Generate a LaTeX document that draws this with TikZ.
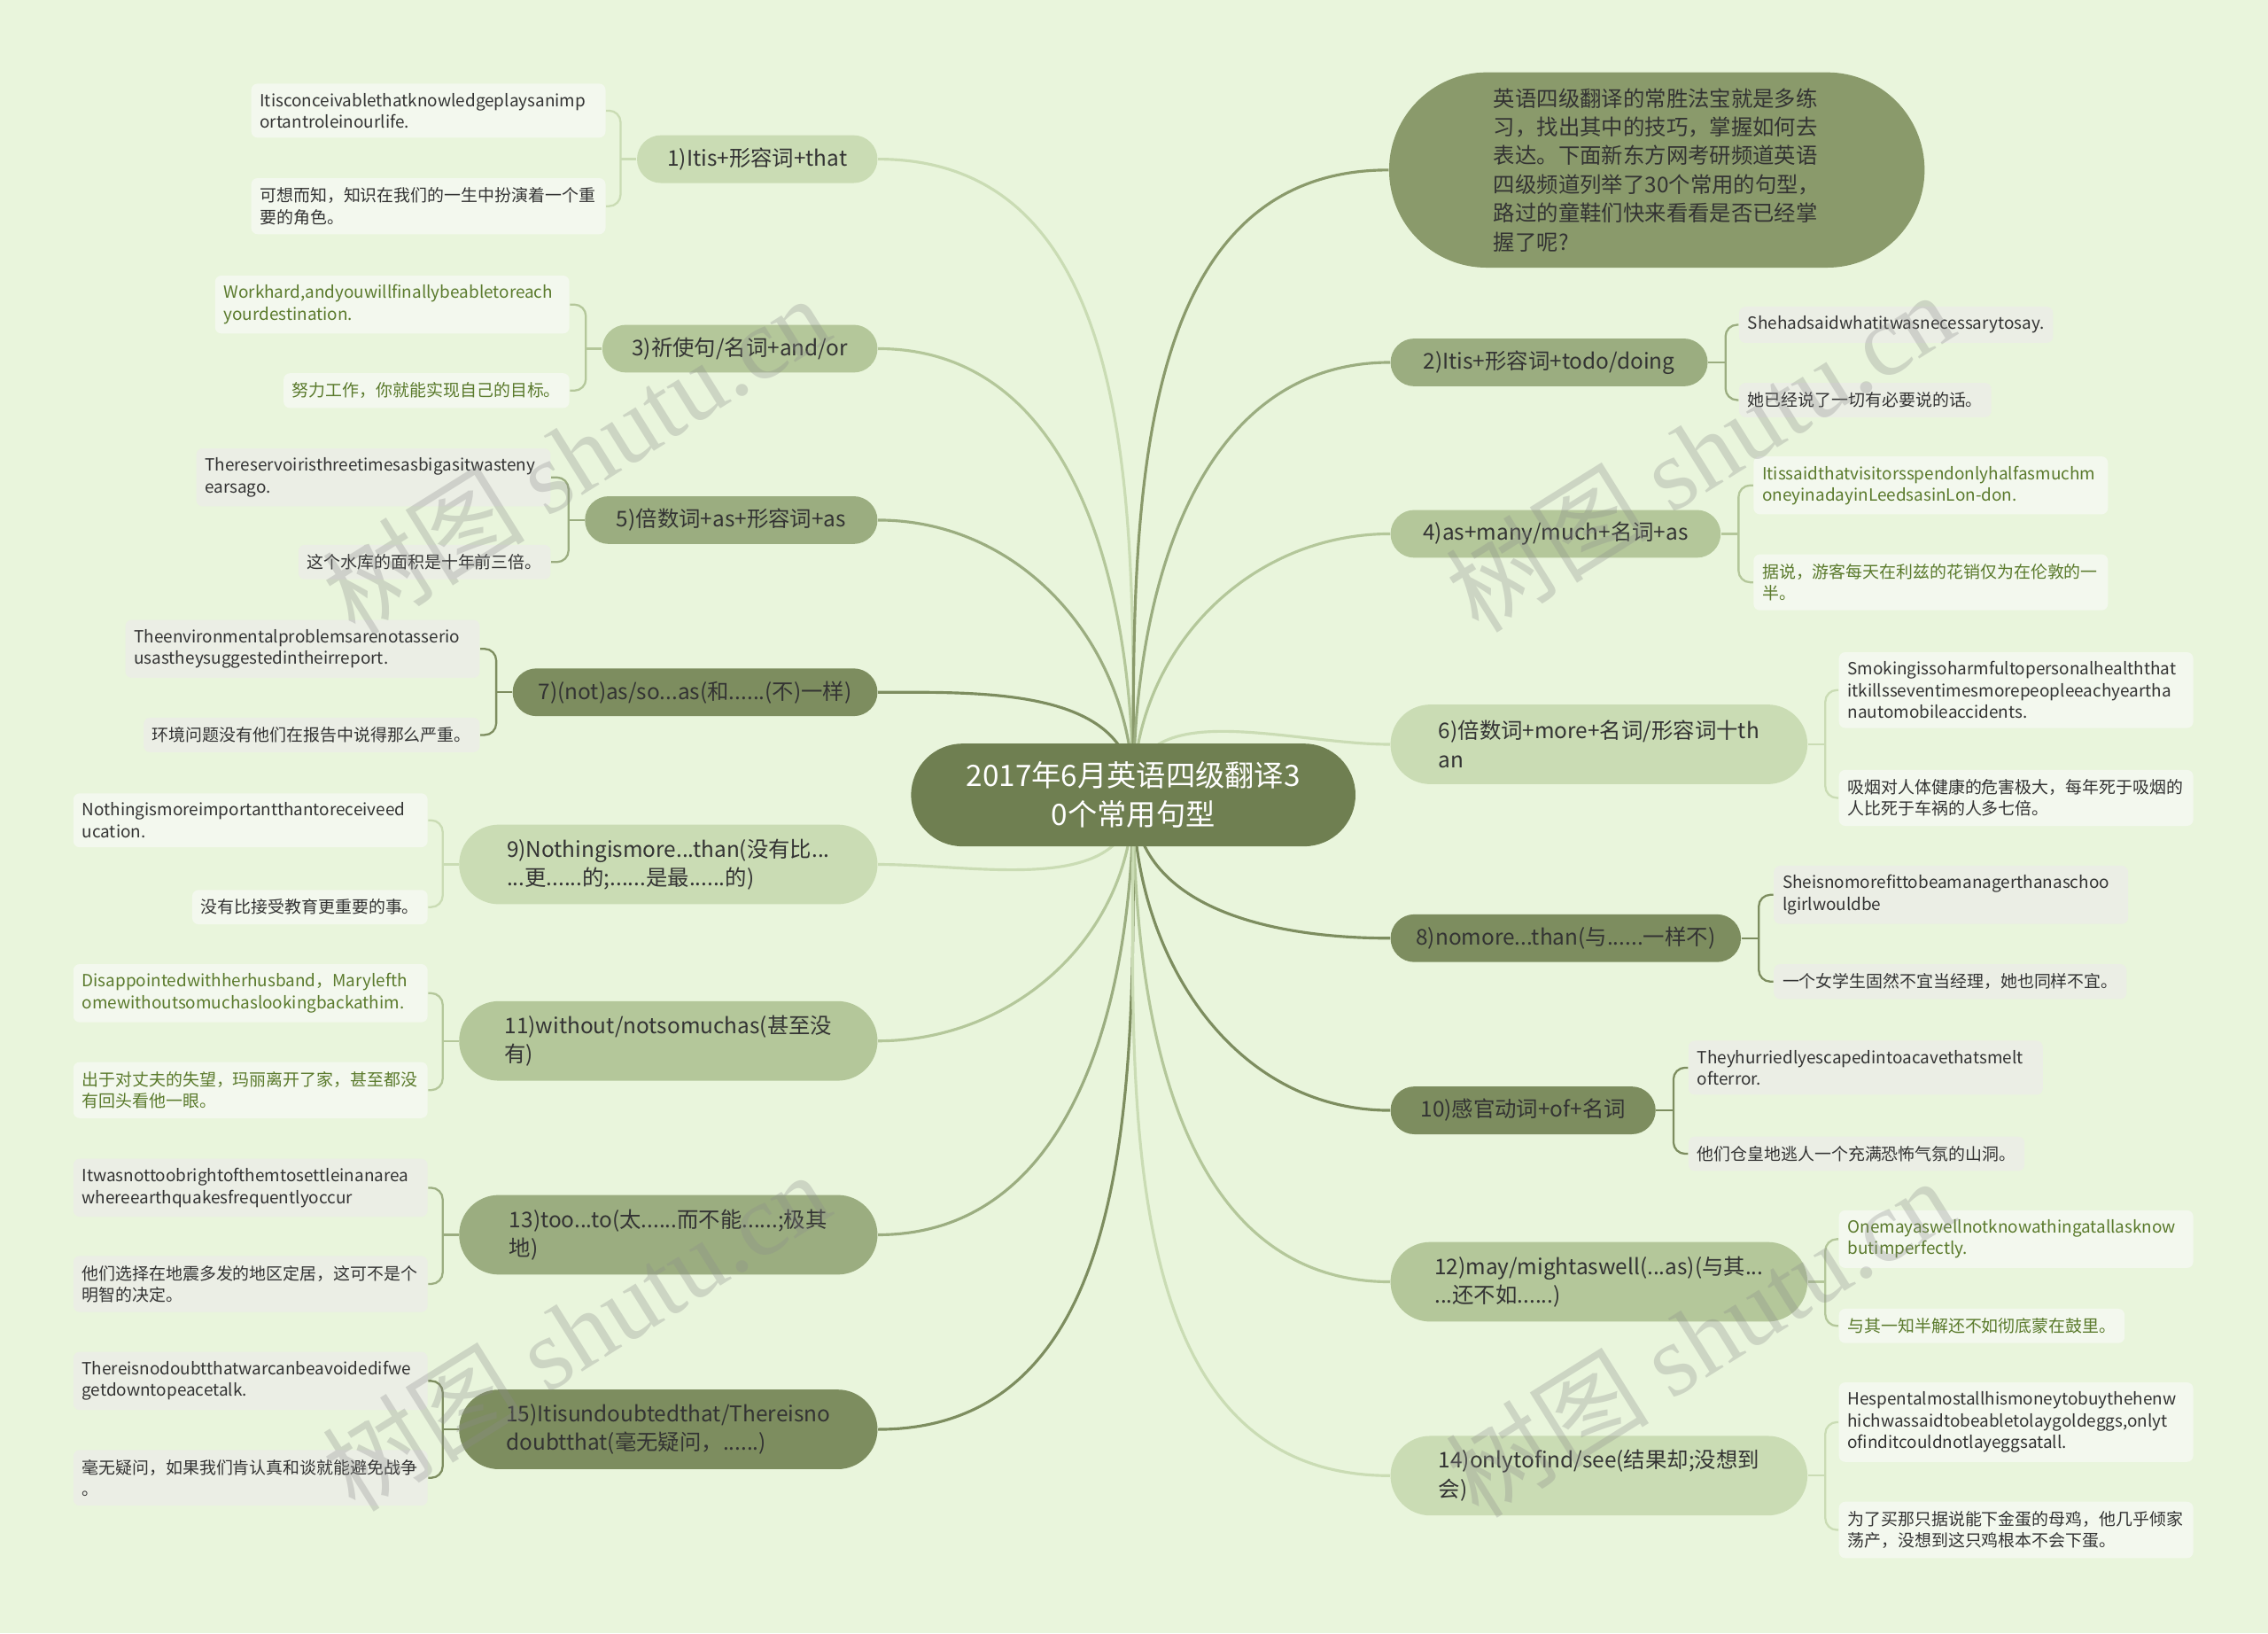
\documentclass[tikz,border=0pt]{standalone}
\usepackage{fontspec}
\setmainfont{Noto Sans CJK SC}
\newfontfamily\wmfont{Liberation Serif}
\usetikzlibrary{positioning,shapes.misc}
\definecolor{bgc}{HTML}{E9F5DC}
\definecolor{rootc}{HTML}{6F7F51}
\definecolor{introc}{HTML}{8A9A6B}
\definecolor{dk}{HTML}{7D8D5F}
\definecolor{md}{HTML}{9BAD80}
\definecolor{lm}{HTML}{B4C79A}
\definecolor{lt}{HTML}{CADCB4}
\definecolor{txt}{HTML}{333333}
\definecolor{grn}{HTML}{5A7A2C}
\definecolor{lfw}{HTML}{F3F8EE}
\definecolor{lfg}{HTML}{EBEEE5}
\hyphenpenalty=10000
\pgfdeclarelayer{bg}
\pgfdeclarelayer{edges}
\pgfsetlayers{bg,edges,main}

\begin{document}
\begin{tikzpicture}[x=0.02cm,y=-0.02cm,
  rootbox/.style={rounded rectangle,fill=rootc,text=white,font=\fontsize{11.6}{15.3}\selectfont,align=center,minimum width=6.38cm,minimum height=1.42cm},
  br/.style={rounded rectangle,text=txt,font=\fontsize{8.5}{11.3}\selectfont,align=left,minimum height=0.66cm},
  tall/.style={minimum height=1.1cm},
  lf/.style={rounded corners=2.5pt,text=txt,font=\fontsize{6.6}{8.5}\selectfont,align=left,inner xsep=0.12cm,inner ysep=3.7pt},
  wide/.style={text width=4.66cm},
  link/.style={line width=1.1pt},
  brk/.style={line width=0.8pt,rounded corners=0.16cm},
  wmark/.style={rotate=32,text=black!45,opacity=0.3,font=\fontsize{40}{40}\selectfont}]
\begin{pgfonlayer}{bg}
\fill[bgc] (0,0) rectangle (1568,1129);
\end{pgfonlayer}

\node[rootbox] (root) at (783.5,549.5) {2017年6月英语四级翻译3\\0个常用句型};

% left side
\node[br,fill=lt,anchor=east,minimum width=3.56cm] (b1) at (607,110) {1)Itis+形容词+that};
\node[br,fill=lm,anchor=east,minimum width=4.04cm] (b3) at (607,241) {3)祈使句/名词+and/or};
\node[br,fill=md,anchor=east,minimum width=4.28cm] (b5) at (607,359.5) {5)倍数词+as+形容词+as};
\node[br,fill=dk,anchor=east,minimum width=5.28cm] (b7) at (607,478.5) {7)(not)as/so...as(和......(不)一样)};
\node[br,tall,fill=lt,anchor=east,minimum width=6.02cm] (b9) at (607,597.5) {9)Nothingismore...than(没有比...\\...更......的;......是最......的)};
\node[br,tall,fill=lm,anchor=east,minimum width=6.02cm] (b11) at (607,719.5) {11)without/notsomuchas(甚至没\\有)};
\node[br,tall,fill=md,anchor=east,minimum width=6.02cm] (b13) at (607,853.5) {13)too...to(太......而不能......;极其\\地)};
\node[br,tall,fill=dk,anchor=east,minimum width=6.02cm] (b15) at (607,988) {15)Itisundoubtedthat/Thereisno\\doubtthat(毫无疑问，......)};

\node[lf,wide,fill=lfw,anchor=east] (la1) at (419,76.5) {Itisconceivablethatknowledgeplaysanimp\\ortantroleinourlife.};
\node[lf,wide,fill=lfw,anchor=east] (lb1) at (419,142.5) {可想而知，知识在我们的一生中扮演着一个重\\要的角色。};
\node[lf,wide,fill=lfw,text=grn,anchor=east] (la3) at (394,210.5) {Workhard,andyouwillfinallybeabletoreach\\yourdestination.};
\node[lf,fill=lfw,text=grn,anchor=east] (lb3) at (394,270) {努力工作，你就能实现自己的目标。};
\node[lf,wide,fill=lfg,anchor=east] (la5) at (381,330) {Thereservoiristhreetimesasbigasitwasteny\\earsago.};
\node[lf,fill=lfg,anchor=east] (lb5) at (381,388.5) {这个水库的面积是十年前三倍。};
\node[lf,wide,fill=lfg,anchor=east] (la7) at (332,448.5) {Theenvironmentalproblemsarenotasserio\\usastheysuggestedintheirreport.};
\node[lf,fill=lfg,anchor=east] (lb7) at (332,508) {环境问题没有他们在报告中说得那么严重。};
\node[lf,wide,fill=lfw,anchor=east] (la9) at (296,567) {Nothingismoreimportantthantoreceiveed\\ucation.};
\node[lf,fill=lfw,anchor=east] (lb9) at (296,627) {没有比接受教育更重要的事。};
\node[lf,wide,fill=lfw,text=grn,anchor=east] (la11) at (296,686.5) {Disappointedwithherhusband，Marylefth\\omewithoutsomuchaslookingbackathim.};
\node[lf,wide,fill=lfw,text=grn,anchor=east] (lb11) at (296,753.5) {出于对丈夫的失望，玛丽离开了家，甚至都没\\有回头看他一眼。};
\node[lf,wide,fill=lfg,anchor=east] (la13) at (296,821) {Itwasnottoobrightofthemtosettleinanarea\\whereearthquakesfrequentlyoccur};
\node[lf,wide,fill=lfg,anchor=east] (lb13) at (296,887.5) {他们选择在地震多发的地区定居，这可不是个\\明智的决定。};
\node[lf,wide,fill=lfg,anchor=east] (la15) at (296,954.5) {Thereisnodoubtthatwarcanbeavoidedifwe\\getdowntopeacetalk.};
\node[lf,wide,fill=lfg,anchor=east] (lb15) at (296,1021.5) {毫无疑问，如果我们肯认真和谈就能避免战争\\。};

% right side
\node[br,fill=introc,anchor=west,minimum width=7.64cm,minimum height=2.7cm] (b0) at (960,117.5) {英语四级翻译的常胜法宝就是多练\\习，找出其中的技巧，掌握如何去\\表达。下面新东方网考研频道英语\\四级频道列举了30个常用的句型，\\路过的童鞋们快来看看是否已经掌\\握了呢?};
\node[br,fill=md,anchor=west,minimum width=4.62cm] (b2) at (961,250.5) {2)Itis+形容词+todo/doing};
\node[br,fill=lm,anchor=west,minimum width=4.8cm] (b4) at (961,369) {4)as+many/much+名词+as};
\node[br,tall,fill=lt,anchor=west,minimum width=6cm] (b6) at (961,514.5) {6)倍数词+more+名词/形容词十th\\an};
\node[br,fill=dk,anchor=west,minimum width=5.08cm] (b8) at (961,648.5) {8)nomore...than(与......一样不)};
\node[br,fill=dk,anchor=west,minimum width=3.9cm] (b10) at (961,767.5) {10)感官动词+of+名词};
\node[br,tall,fill=lm,anchor=west,minimum width=6cm] (b12) at (961,886) {12)may/mightaswell(...as)(与其...\\...还不如......)};
\node[br,tall,fill=lt,anchor=west,minimum width=6cm] (b14) at (961,1020) {14)onlytofind/see(结果却;没想到\\会)};

\node[lf,fill=lfg,anchor=west] (la2) at (1202,224.5) {Shehadsaidwhatitwasnecessarytosay.};
\node[lf,fill=lfg,anchor=west] (lb2) at (1202,276.5) {她已经说了一切有必要说的话。};
\node[lf,wide,fill=lfw,text=grn,anchor=west] (la4) at (1212,335.5) {Itissaidthatvisitorsspendonlyhalfasmuchm\\oneyinadayinLeedsasinLon-don.};
\node[lf,wide,fill=lfw,text=grn,anchor=west] (lb4) at (1212,402.5) {据说，游客每天在利兹的花销仅为在伦敦的一\\半。};
\node[lf,wide,fill=lfw,anchor=west] (la6) at (1271,477) {Smokingissoharmfultopersonalhealththat\\itkillsseventimesmorepeopleeachyeartha\\nautomobileaccidents.};
\node[lf,wide,fill=lfw,anchor=west] (lb6) at (1271,551.5) {吸烟对人体健康的危害极大，每年死于吸烟的\\人比死于车祸的人多七倍。};
\node[lf,wide,fill=lfg,anchor=west] (la8) at (1226,618.5) {Sheisnomorefittobeamanagerthanaschoo\\lgirlwouldbe};
\node[lf,fill=lfg,anchor=west] (lb8) at (1226,678.5) {一个女学生固然不宜当经理，她也同样不宜。};
\node[lf,wide,fill=lfg,anchor=west] (la10) at (1167,738) {Theyhurriedlyescapedintoacavethatsmelt\\ofterror.};
\node[lf,fill=lfg,anchor=west] (lb10) at (1167,797.5) {他们仓皇地逃人一个充满恐怖气氛的山洞。};
\node[lf,wide,fill=lfw,text=grn,anchor=west] (la12) at (1271,856.5) {Onemayaswellnotknowathingatallasknow\\butimperfectly.};
\node[lf,fill=lfw,text=grn,anchor=west] (lb12) at (1271,916.5) {与其一知半解还不如彻底蒙在鼓里。};
\node[lf,wide,fill=lfw,anchor=west] (la14) at (1271,983) {Hespentalmostallhismoneytobuythehenw\\hichwassaidtobeabletolaygoldeggs,onlyt\\ofinditcouldnotlayeggsatall.};
\node[lf,wide,fill=lfw,anchor=west] (lb14) at (1271,1057.5) {为了买那只据说能下金蛋的母鸡，他几乎倾家\\荡产，没想到这只鸡根本不会下蛋。};

% spine points of the brackets
\foreach \i in {1,3,...,15} \coordinate[left=0.22cm of b\i] (s\i);
\foreach \i in {2,4,...,14} \coordinate[right=0.24cm of b\i] (s\i);

\begin{pgfonlayer}{edges}
\foreach \i/\c/\o in {1/lt/90,3/lm/90,5/md/90,7/dk/90,9/lt/-90,11/lm/-90,13/md/-90,15/dk/-90}
  \draw[link,\c] (root.center) to[out=\o,in=0] (b\i.east);
\foreach \i/\c/\o in {0/introc/90,2/md/90,4/lm/90,6/lt/90,8/dk/-90,10/dk/-90,12/lm/-90,14/lt/-90}
  \draw[link,\c] (root.center) to[out=\o,in=180] (b\i.west);
\foreach \i/\c in {1/lt,3/lm,5/md,7/dk,9/lt,11/lm,13/md,15/dk}{
  \draw[brk,\c] (b\i.west) -- (s\i);
  \draw[brk,\c] (la\i.east) -| (s\i) |- (lb\i.east);
}
\foreach \i/\c in {2/md,4/lm,6/lt,8/dk,10/dk,12/lm,14/lt}{
  \draw[brk,\c] (b\i.east) -- (s\i);
  \draw[brk,\c] (la\i.west) -| (s\i) |- (lb\i.west);
}
\end{pgfonlayer}

% watermark
\node[wmark] (wm1) at (398,314) {树图 {\wmfont shutu.cn}};
\node[wmark] (wm2) at (1175,312) {树图 {\wmfont shutu.cn}};
\node[wmark] (wm3) at (398,920) {树图 {\wmfont shutu.cn}};
\node[wmark] (wm4) at (1175,924) {树图 {\wmfont shutu.cn}};
\end{tikzpicture}
\end{document}
